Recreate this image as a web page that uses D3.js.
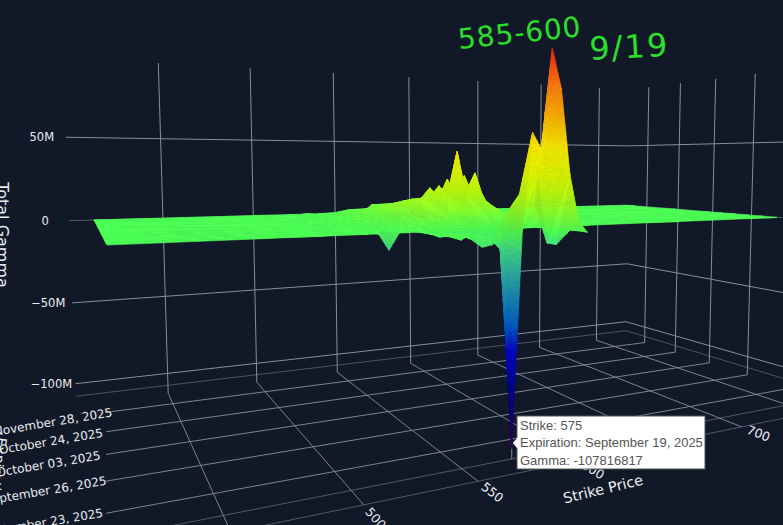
<!DOCTYPE html>
<html>
  <head>
    <title>Total Gamma surface</title>
    <meta charset="UTF-8" />
    <style>
      html, body { margin: 0; padding: 0; background: #111928; overflow: hidden; }
      text { font-family: "DejaVu Sans", sans-serif; }
    </style>
  </head>
  <body>
    <script src="https://cdn.jsdelivr.net/npm/d3@7/dist/d3.min.js" charset="utf-8"></script>
    <script>
      // categories on the expiry axis, far wall first
      var expiries = [
        "December 19, 2025", "December 05, 2025", "November 28, 2025", "November 21, 2025",
        "October 31, 2025", "October 24, 2025", "October 17, 2025", "October 10, 2025",
        "October 03, 2025", "September 30, 2025", "September 29, 2025", "September 26, 2025",
        "September 25, 2025", "September 24, 2025", "September 23, 2025", "September 22, 2025",
        "September 19, 2025"
      ];
      var expiryTicks = ["November 28, 2025", "October 24, 2025", "October 03, 2025", "September 26, 2025", "September 23, 2025"];
      var strikeTicks = [450, 500, 550, 600, 650, 700, 750];
      var strikeTickLabels = [500, 550, 600, 650, 700];
      var gammaTicks = [50, 0, -50, -100];
      var gammaTickLabels = ["50M", "0", "\u221250M", "\u2212100M"];

      // strikes that carry open interest, the rest of the surface is flat at zero
      var activeStrikes = [520, 525, 530, 535, 540, 545, 550, 555, 560, 565, 570, 575, 580, 585, 590, 595, 600, 605, 610, 615, 620, 625, 630, 635, 640];
      var outerLow = [415, 500];
      var outerHigh = [700, 775];

      // total gamma in millions
      var gammaDec19 = [0, 0, 0, 0, 0, 0, 0, 0, 0, 0, 0, 0, 0, 0, 0, 0, 0, 0, 0, 0, 0, 0, 0, 0, 0];
      var gammaDec05 = [0, 0, 1, 0, 1, 1, 2, 3, 1, 2, 6, 2, 6, 2, 3, 3, 7, 8, 3, 1, 1, 0, 0, 0, 0];
      var gammaOct24 = [0, 0, 1, 1, 2, 3, 4, 6, 7, 9, 8, 10, 9, 8, 7, 5, 3, 2, 1, 0, 0, 0, 0, 0, 0];
      var gammaOct03 = [0, 1, 1, 2, 3, 5, 8, 11, 13, 14, 13, 14, 13, 12, 11, 8, 5, 2, 1, 0, 0, 0, 0, 0, 0];
      var gammaSep30 = [0, 0, 0, 0, 1, 3, 6, 9, 13, 15, 21, 15, 26, 15, 28, 14, 18, 8, 3, 0, 0, 0, 0, 0, 0];
      var gammaSep29 = [0, 0, 0, 1, 2, 3, 7, 10, 14, 16, 15, 18, 16, 18, 15, 11, 8, 3, 1, 0, 0, 0, 0, 0, 0];
      var gammaSep26 = [0, 0, 0, 1, 2, 4, 7, 14, 14, 23, 17, 42, 17, 30, 15, 11, 8, 4, 1, 0, 0, 0, 0, 0, 0];
      var gammaSep25 = [0, 0, 0, 0, 0, 1, 2, 4, 6, 8, 7, 12, 7, 8, 4, 3, 2, 1, 0, 0, 0, 0, 0, 0, 0];
      var gammaSep24 = [0, 0, -8.6, 0, 0, 0, -1, -3, -2, -4, -3, -5, -2, -1, 0, 0, 0, 0, 0, 0, 0, 0, 0, 0, 0];
      var gammaSep23 = [null, null, null, null, null, 0, 0, 0, -1, -1, -2, -3, 0, 10, 8, 16, 14, 8, 2, 0, 0, null, null, null, null];
      var gammaSep22 = [null, null, null, null, null, 1, 0, 0, -2, -1, -2, -8, -1, 20, 16, 30, -6, -7, 2, 0, 0, null, null, null, null];
      var gammaSep19 = [null, null, null, null, null, 2, -1, 2, -5, -4, 2, -107.8, 2, 51, 42, 93, 73, 30, 6, 0, null, null, null, null, null];

      var surfaceExpiries = [
        "December 19, 2025", "December 05, 2025", "October 24, 2025", "October 03, 2025",
        "September 30, 2025", "September 29, 2025", "September 26, 2025", "September 25, 2025",
        "September 24, 2025", "September 23, 2025", "September 22, 2025", "September 19, 2025"
      ];
      var surfaceRows = [
        gammaDec19, gammaDec05, gammaOct24, gammaOct03, gammaSep30, gammaSep29,
        gammaSep26, gammaSep25, gammaSep24, gammaSep23, gammaSep22, gammaSep19
      ];

      var hoverStrike = 575;
      var hoverExpiry = "September 19, 2025";
      var hoverGamma = -107816817;

      var width = 783, height = 525;
      var wallColor = "#868e9b";

      var origin = [598, 206];
      var vpExpiry = [63, 160];
      var vpStrike = [2000, 167];
      var vpGamma = [475, 10650];

      var strikeDepth = d3.scaleLinear().domain([750, 800]).range([0, 0.03947]);
      var expiryDepth = d3.scalePoint().domain(expiries).range([0, 0.267]);
      var gammaDepth = d3.scaleLinear().domain([0, -100]).range([0, 0.01153]);

      var strikeMin = 403, strikeMax = 777.5;
      var gammaFloor = -113, gammaTop = 97;
      var nearEdge = 0.29;

      function project(strike, b, z) {
        var a = strikeDepth(strike), k = gammaDepth(z);
        var w = 1 + a - b + k;
        return {
          x: (origin[0] + a * vpStrike[0] - b * vpExpiry[0] + k * vpGamma[0]) / w,
          y: (origin[1] + a * vpStrike[1] - b * vpExpiry[1] + k * vpGamma[1]) / w,
          w: w
        };
      }

      var colorScale = d3.scaleLinear()
        .domain([-108, -100, -78, -59, -45, -30, -20, -8, 0, 10, 20, 30, 44, 60, 75, 93])
        .range(["#3a1060", "#20005f", "#00008c", "#0000d0", "#0060d0", "#1a90b8", "#2cb0a8", "#40e08a",
                "#4dff55", "#8cff2c", "#c0ff0c", "#e2fa00", "#ffee00", "#ffb000", "#ff7a10", "#f02010"])
        .clamp(true);

      var svg = d3.select("body").append("svg")
        .attr("width", width)
        .attr("height", height)
        .style("display", "block");

      svg.append("rect").attr("width", width).attr("height", height).attr("fill", "#111928");

      svg.append("clipPath").attr("id", "floorClip")
        .append("rect").attr("x", 106).attr("y", 0).attr("width", width).attr("height", height);

      var grid = svg.append("g").attr("fill", "none").attr("stroke", wallColor).attr("stroke-width", 1);

      function drawLine(parent, a, b, opacity) {
        return parent.append("line")
          .attr("x1", a.x).attr("y1", a.y)
          .attr("x2", b.x).attr("y2", b.y)
          .attr("stroke-opacity", opacity);
      }

      // walls
      strikeTicks.forEach(function(s) {
        drawLine(grid, project(s, 0, gammaFloor), project(s, 0, gammaTop), 1);
      });
      ["November 28, 2025", "October 24, 2025", "October 03, 2025", "September 26, 2025"].forEach(function(e) {
        var b = expiryDepth(e);
        drawLine(grid, project(strikeMax, b, gammaFloor), project(strikeMax, b, gammaTop), 1);
      });
      gammaTicks.concat([-107.8]).forEach(function(z) {
        var op = z == -107.8 ? 0.5 : 1;
        if (z == 0) op = 0.55;
        drawLine(grid, project(strikeMin, 0, z), project(strikeMax, 0, z), op);
        drawLine(grid, project(strikeMax, 0, z), project(strikeMax, nearEdge, z), op);
      });

      // floor
      strikeTicks.forEach(function(s) {
        drawLine(grid, project(s, 0, gammaFloor), project(s, nearEdge, gammaFloor), 0.9);
      });
      var floorLines = grid.append("g").attr("clip-path", "url(#floorClip)");
      expiryTicks.forEach(function(e) {
        var b = expiryDepth(e);
        drawLine(floorLines, project(strikeMin, b, gammaFloor), project(strikeMax, b, gammaFloor), 0.9);
      });
      ["September 19, 2025"].forEach(function(e) {
        drawLine(floorLines, project(strikeMin, expiryDepth(e), gammaFloor), project(strikeMax, expiryDepth(e), gammaFloor), 0.55);
      });
      drawLine(floorLines, project(strikeMin, nearEdge, gammaFloor), project(strikeMax, nearEdge, gammaFloor), 0.55);

      // surface cells, painted from the far wall forward
      var allStrikes = outerLow.concat(activeStrikes, outerHigh);

      function cellValue(row, i) {
        var j = i - outerLow.length;
        if (j < 0 || j >= activeStrikes.length) {
          return row[activeStrikes.length - 1] === null ? null : 0;
        }
        return row[j];
      }

      var tris = [];

      function splitTriangle(t) {
        // split along the edge with the biggest gamma step, keeps the colours smooth
        var best = 0, bestD = -1;
        for (var i = 0; i < 3; i++) {
          var d = Math.abs(t[i].z - t[(i + 1) % 3].z);
          if (d > bestD) { bestD = d; best = i; }
        }
        if (bestD <= 3) return [t];
        var p = t[best], q = t[(best + 1) % 3], r = t[(best + 2) % 3];
        var m = { s: (p.s + q.s) / 2, b: (p.b + q.b) / 2, z: (p.z + q.z) / 2 };
        return splitTriangle([p, m, r]).concat(splitTriangle([m, q, r]));
      }

      function shadeOf(t) {
        var ux = (t[1].s - t[0].s) / 5, uy = (t[1].b - t[0].b) / 0.0165, uz = (t[1].z - t[0].z) / 10;
        var vx = (t[2].s - t[0].s) / 5, vy = (t[2].b - t[0].b) / 0.0165, vz = (t[2].z - t[0].z) / 10;
        var nx = uy * vz - uz * vy, ny = uz * vx - ux * vz, nz = ux * vy - uy * vx;
        var len = Math.sqrt(nx * nx + ny * ny + nz * nz) || 1;
        return Math.abs(nx / len);
      }

      function addTriangle(a, b, c) {
        var shade = shadeOf([a, b, c]);
        var pieces = splitTriangle([a, b, c]);
        pieces.forEach(function(t) {
          var z = (t[0].z + t[1].z + t[2].z) / 3;
          var pts = t.map(function(v) { return project(v.s, v.b, v.z); });
          tris.push({ pts: pts, color: d3.interpolateRgb(colorScale(z), "#26331a")(shade * 0.12) });
        });
      }

      for (var r = 0; r < surfaceRows.length - 1; r++) {
        var bFar = expiryDepth(surfaceExpiries[r]), bNear = expiryDepth(surfaceExpiries[r + 1]);
        for (var i = allStrikes.length - 2; i >= 0; i--) {
          var z00 = cellValue(surfaceRows[r], i), z10 = cellValue(surfaceRows[r], i + 1);
          var z01 = cellValue(surfaceRows[r + 1], i), z11 = cellValue(surfaceRows[r + 1], i + 1);
          if (z00 === null || z10 === null || z01 === null || z11 === null) continue;
          var p00 = { s: allStrikes[i], b: bFar, z: z00 }, p10 = { s: allStrikes[i + 1], b: bFar, z: z10 };
          var p01 = { s: allStrikes[i], b: bNear, z: z01 }, p11 = { s: allStrikes[i + 1], b: bNear, z: z11 };
          // cut the cell along the flatter diagonal so spikes keep their ridge
          if (Math.abs(z00 - z11) <= Math.abs(z10 - z01)) {
            addTriangle(p00, p10, p11);
            addTriangle(p00, p11, p01);
          } else {
            addTriangle(p00, p10, p01);
            addTriangle(p10, p11, p01);
          }
        }
      }

      svg.append("g").selectAll("path")
        .data(tris)
        .enter()
        .append("path")
        .attr("d", function(d) {
          return "M" + d.pts.map(function(p) { return p.x.toFixed(1) + "," + p.y.toFixed(1); }).join("L") + "Z";
        })
        .attr("fill", function(d) { return d.color; })
        .attr("stroke", function(d) { return d.color; })
        .attr("stroke-width", 0.6)
        .attr("stroke-linejoin", "round");

      // tick labels
      var labels = svg.append("g").attr("fill", "#e9edf2");

      gammaTicks.forEach(function(z, i) {
        var p = project(strikeMin, 0, z);
        labels.append("text")
          .attr("x", p.x - 24)
          .attr("y", p.y)
          .attr("dy", "0.35em")
          .attr("text-anchor", "middle")
          .attr("font-size", 11.5)
          .text(gammaTickLabels[i]);
      });

      expiryTicks.forEach(function(e) {
        var b = expiryDepth(e);
        var p0 = project(strikeMin, b, gammaFloor), p1 = project(450, b, gammaFloor);
        var lineY = p0.y + (p1.y - p0.y) * (106 - p0.x) / (p1.x - p0.x);
        var cx = 53 - (lineY - 413) * 0.11, cy = lineY + 9.5;
        labels.append("text")
          .attr("transform", "translate(" + cx + "," + cy + ") rotate(-9.5)")
          .attr("dy", "0.35em")
          .attr("text-anchor", "middle")
          .attr("font-size", 12)
          .text(e);
      });

      strikeTickLabels.forEach(function(s) {
        var a = project(s, 0, gammaFloor), b = project(s, nearEdge, gammaFloor);
        var ang = Math.atan2(b.y - a.y, b.x - a.x);
        labels.append("text")
          .attr("transform", "translate(" + (b.x + 18 * Math.cos(ang)) + "," + (b.y + 18 * Math.sin(ang)) + ") rotate(" + (ang * 180 / Math.PI) + ")")
          .attr("dy", "0.35em")
          .attr("text-anchor", "middle")
          .attr("font-size", 12.5)
          .text(s);
      });

      // axis titles
      var titles = svg.append("g").attr("fill", "#e9edf2");
      titles.append("text")
        .attr("transform", "translate(-3,235) rotate(90)")
        .attr("text-anchor", "middle")
        .attr("font-size", 16)
        .text("Total Gamma");
      titles.append("text")
        .attr("transform", "translate(-3,437) rotate(97)")
        .attr("font-size", 14)
        .text("Expiration");
      titles.append("text")
        .attr("transform", "translate(603,489) rotate(-13.5)")
        .attr("dy", "0.35em")
        .attr("text-anchor", "middle")
        .attr("font-size", 14.5)
        .text("Strike Price");

      // hover label with its drop line to the floor
      var hb = expiryDepth(hoverExpiry);
      var hp = project(hoverStrike, hb, hoverGamma / 1e6);
      drawLine(svg.append("g").attr("stroke", wallColor), hp, project(hoverStrike, hb, gammaFloor), 1);
      var hoverX = 517, hoverY = 416;
      var hover = svg.append("g");
      hover.append("rect")
        .attr("x", hoverX).attr("y", hoverY)
        .attr("width", 188).attr("height", 53)
        .attr("fill", "#ffffff").attr("stroke", "#555555");
      hover.append("path")
        .attr("d", "M" + (hp.x + 1) + "," + (hoverY + 27) + "L" + (hoverX + 1) + "," + (hoverY + 21) + "L" + (hoverX + 1) + "," + (hoverY + 33) + "Z")
        .attr("fill", "#ffffff");
      var hoverLines = ["Strike: " + hoverStrike, "Expiration: " + hoverExpiry, "Gamma: " + hoverGamma];
      hover.selectAll("text.tip")
        .data(hoverLines)
        .enter()
        .append("text")
        .attr("class", "tip")
        .attr("x", hoverX + 3)
        .attr("y", function(d, i) { return hoverY + 14 + i * 17.3; })
        .attr("fill", "#555555")
        .attr("font-size", 13)
        .style("font-family", "'Liberation Sans', Arial, sans-serif")
        .text(function(d) { return d; });

      // hand written note on the screenshot
      var note = svg.append("g")
        .attr("fill", "#2be02b")
        .style("font-family", "Lato, sans-serif");
      note.append("text")
        .attr("transform", "translate(459,49) rotate(-6)")
        .attr("font-size", 28)
        .attr("letter-spacing", 1)
        .text("585-600");
      note.append("text")
        .attr("transform", "translate(590,60) rotate(-3)")
        .attr("font-size", 32)
        .attr("letter-spacing", 2)
        .text("9/19");
    </script>
  </body>
</html>
